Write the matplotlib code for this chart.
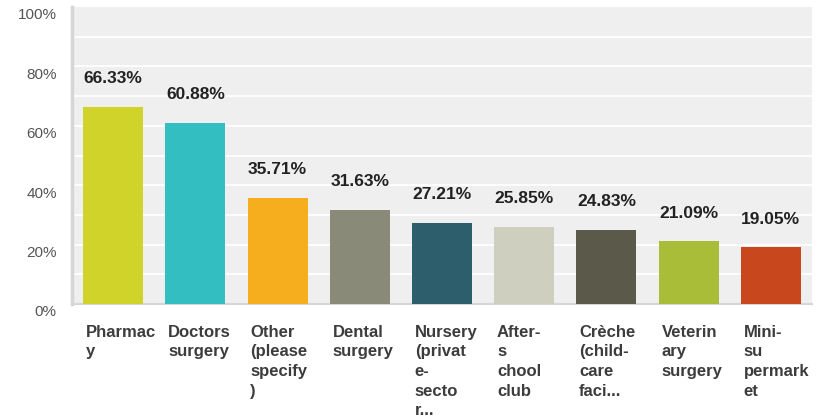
import numpy as np
import matplotlib
matplotlib.use("Agg")
import matplotlib.pyplot as plt
import matplotlib.transforms as mtransforms

plt.rcParams['font.family'] = ['Liberation Sans', 'DejaVu Sans']

# data
categories = ["Pharmac\ny", "Doctors\nsurgery", "Other\n(please\nspecify\n)",
              "Dental\nsurgery", "Nursery\n(privat\ne-\nsecto\nr...",
              "After-\ns\nchool\nclub", "Crèche\n(child-\ncare\nfaci...",
              "Veterin\nary\nsurgery", "Mini-\nsu\npermark\net"]
values = [66.33, 60.88, 35.71, 31.63, 27.21, 25.85, 24.83, 21.09, 19.05]
colors = ["#d0d42a", "#33bfc1", "#f6ae1e", "#8a8a78", "#2d5e6b",
          "#cfcfc0", "#5b5a4a", "#a9bd39", "#c8471c"]
ytick_vals = [0, 20, 40, 60, 80, 100]

fig = plt.figure(figsize=(8.23, 4.18), dpi=100)
ax = fig.add_axes([72 / 823, 1 - 304 / 418, 740 / 823, 297 / 418])
ax.set_facecolor("#efefef")

x = np.arange(len(values))
bar_w = 0.73
ax.bar(x, values, width=bar_w, color=colors, zorder=3)

ax.set_xlim(-0.5, len(values) - 0.5)
ax.set_ylim(0, 100)

# white gridlines every 10%
for g in range(10, 100, 10):
    ax.axhline(g, color="white", lw=1.3, zorder=1)

for i, v in enumerate(values):
    ax.annotate("%.2f%%" % v, (i, v), xytext=(0, 15), textcoords="offset points",
                ha="center", va="bottom", fontsize=12.5, fontweight="bold", color="#222222")

# category labels under bars, left aligned to bar edge
for i, c in enumerate(categories):
    ax.annotate(c, (i - bar_w / 2, 0), xytext=(2, -15), textcoords="offset points",
                ha="left", va="top", fontsize=12, fontweight="bold", color="#3c3c3c",
                linespacing=1.38, annotation_clip=False)

ax.set_xticks([])
ax.set_yticks(ytick_vals)
ax.set_yticklabels(["%d%%" % t for t in ytick_vals], fontsize=11, color="#555555")
ax.tick_params(axis="y", length=0, pad=11)
offset = mtransforms.ScaledTranslation(0, -5 / 72, fig.dpi_scale_trans)
for lbl in ax.get_yticklabels():
    lbl.set_transform(lbl.get_transform() + offset)

for s in ["top", "right"]:
    ax.spines[s].set_visible(False)
ax.spines["left"].set_color("#d6d6d6")
ax.spines["left"].set_linewidth(2.5)
ax.spines["bottom"].set_color("#d6d6d6")
ax.spines["bottom"].set_linewidth(1.5)

fig.savefig("out.png", dpi=100)
